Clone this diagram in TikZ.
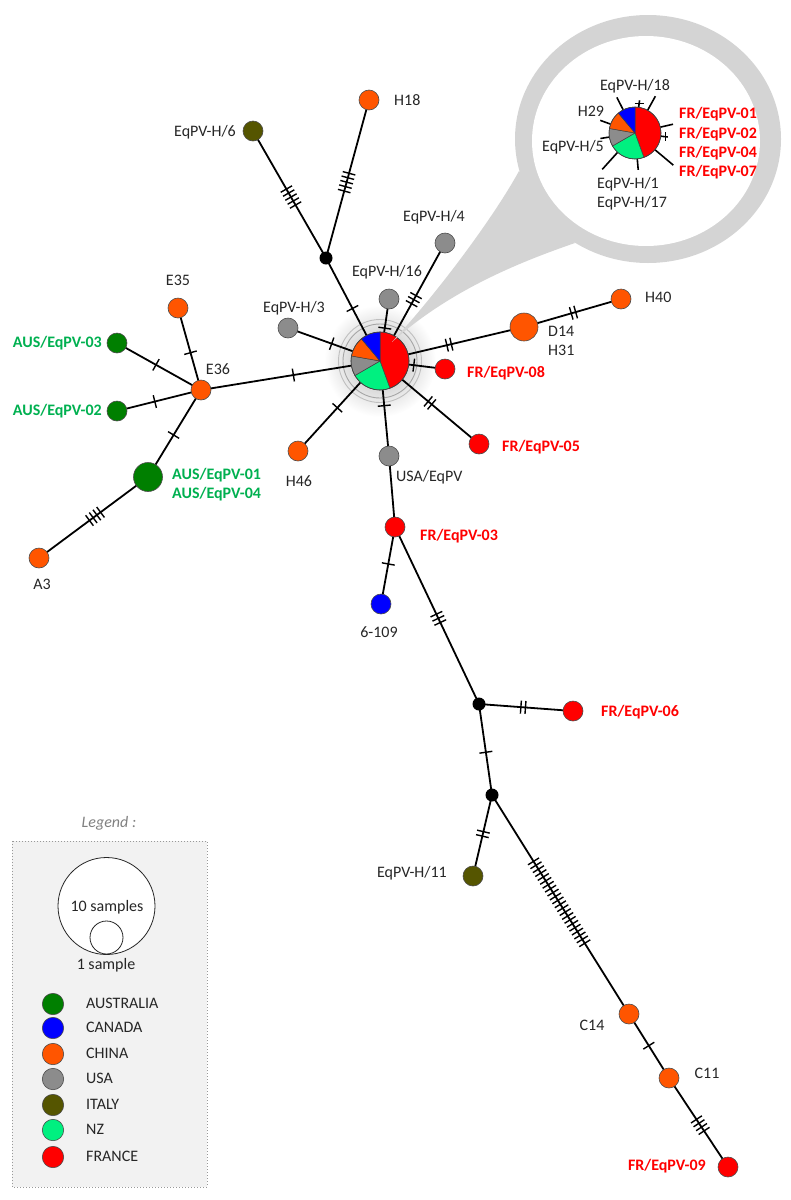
\documentclass[tikz,border=0pt]{standalone}
\usepackage{fontspec}
\setmainfont{Carlito}
\usetikzlibrary{decorations.markings}
\pgfdeclarelayer{bg}
\pgfsetlayers{bg,main}
\definecolor{cAus}{HTML}{007F00}
\definecolor{cCan}{HTML}{0000FF}
\definecolor{cChi}{HTML}{FF5500}
\definecolor{cUsa}{HTML}{8C8C8C}
\definecolor{cIta}{HTML}{555500}
\definecolor{cNz}{HTML}{00F080}
\definecolor{cFra}{HTML}{FF0000}
\definecolor{labGreen}{HTML}{00B050}
\definecolor{labRed}{HTML}{FF0000}
\definecolor{bubbleGray}{HTML}{D4D4D4}
\definecolor{legFill}{HTML}{F2F2F2}
\newcommand\hubslice[5]{\filldraw[fill=#5, draw=black!75, line width=0.5pt] (#1) -- +(#3:#2) arc[start angle=#3, end angle=#4, radius=#2] -- cycle;}
\begin{document}
\begin{tikzpicture}[x=1pt,y=-1pt,
  nd/.style={circle, draw=black!70, line width=0.6pt, inner sep=0pt, minimum size=20},
  aus/.style={nd, fill=cAus},
  can/.style={nd, fill=cCan},
  chi/.style={nd, fill=cChi},
  usa/.style={nd, fill=cUsa},
  ita/.style={nd, fill=cIta},
  nzs/.style={nd, fill=cNz},
  fra/.style={nd, fill=cFra},
  jn/.style={circle, fill=black, inner sep=0pt, minimum size=13},
  lbl/.style={font=\fontsize{16}{19}\selectfont, inner sep=0pt, text height=11pt, text depth=3pt, text=black!85},
  frl/.style={lbl, font=\fontsize{16}{19}\selectfont\bfseries, text=labRed},
  ausl/.style={lbl, font=\fontsize{16}{19}\selectfont\bfseries, text=labGreen},
  edge/.style={draw=black, line width=1.8pt},
  tickln/.style={draw=black, line width=1.4pt},
  ticks/.style 2 args={postaction={decorate, decoration={markings, mark=at position #1 with {\foreach \k in {1,...,#2}{\draw[tickln] ({(\k-(#2+1)/2)*4.6},-6.5) -- ({(\k-(#2+1)/2)*4.6},6.5);}}}}}
]
\useasboundingbox (0,0) rectangle (791,1200);

% ---------- network nodes ----------
\node[circle, inner sep=0pt, minimum size=58] (hub) at (380,361) {};
\node[jn] (j1) at (326,258) {};
\node[ita] (h6) at (253,131) {};
\node[chi] (h18) at (369,100) {};
\node[usa] (h16) at (389,299) {};
\node[usa] (h4) at (445,243) {};
\node[usa] (h3) at (288,328) {};
\node[chi] (e36) at (201,390) {};
\node[chi] (e35) at (178,308) {};
\node[aus] (aus3) at (117,343) {};
\node[aus] (aus2) at (117,411) {};
\node[aus, minimum size=29] (aus1) at (148,477) {};
\node[chi] (a3) at (39,558) {};
\node[chi] (h46) at (298,451) {};
\node[usa] (usa) at (389,456) {};
\node[fra] (fr05) at (479,444) {};
\node[fra] (fr08) at (445,369) {};
\node[chi, minimum size=28] (d14) at (524,327) {};
\node[chi] (h40) at (621,299) {};
\node[fra] (fr03) at (395,527) {};
\node[can] (can) at (381,604) {};
\node[jn] (j2) at (479,704) {};
\node[fra] (fr06) at (573,711) {};
\node[jn] (j3) at (492,795) {};
\node[ita] (h11) at (473,876) {};
\node[chi] (c14) at (629,1014) {};
\node[chi] (c11) at (669,1078) {};
\node[fra] (fr09) at (728,1167) {};

% ---------- background: glow, bubble, rings, edges ----------
\begin{pgfonlayer}{bg}
  \shade[inner color=black!30, outer color=white] (hub.center) circle (56);
  \fill[bubbleGray] (648,139) ellipse [x radius=133, y radius=124];
  \fill[white] (646,141) ellipse [x radius=114, y radius=105];
  \draw[black!35, line width=0.9pt] (hub.center) circle (37);
  \draw[black!25, line width=0.9pt] (hub.center) circle (41.5);
  \draw[edge, ticks={0.51}{1}] (hub.center) -- (j1.center);
  \draw[edge, ticks={0.48}{5}] (j1.center) -- (h6.center);
  \draw[edge, ticks={0.48}{5}] (j1.center) -- (h18.center);
  \draw[edge, ticks={0.53}{1}] (hub.center) -- (h16.center);
  \draw[edge, ticks={0.52}{3}] (hub.center) -- (h4.center);
  \draw[edge, ticks={0.525}{1}] (hub.center) -- (h3.center);
  \draw[edge, ticks={0.484}{1}] (hub.center) -- (e36.center);
  \draw[edge, ticks={0.52}{1}] (hub.center) -- (h46.center);
  \draw[edge, ticks={0.47}{1}] (hub.center) -- (usa.center);
  \draw[edge, ticks={0.505}{2}] (hub.center) -- (fr05.center);
  \draw[edge, ticks={0.52}{1}] (hub.center) -- (fr08.center);
  \draw[edge, ticks={0.48}{2}] (hub.center) -- (d14.center);
  \draw[edge, ticks={0.51}{2}] (d14.center) -- (h40.center);
  \draw[edge, ticks={0.455}{1}] (e36.center) -- (e35.center);
  \draw[edge, ticks={0.536}{1}] (e36.center) -- (aus3.center);
  \draw[edge, ticks={0.55}{1}] (e36.center) -- (aus2.center);
  \draw[edge, ticks={0.517}{1}] (e36.center) -- (aus1.center);
  \draw[edge, ticks={0.486}{4}] (aus1.center) -- (a3.center);
  \draw[edge] (usa.center) -- (fr03.center);
  \draw[edge, ticks={0.48}{1}] (fr03.center) -- (can.center);
  \draw[edge, ticks={0.516}{3}] (fr03.center) -- (j2.center);
  \draw[edge, ticks={0.47}{2}] (j2.center) -- (fr06.center);
  \draw[edge, ticks={0.53}{1}] (j2.center) -- (j3.center);
  \draw[edge, ticks={0.48}{2}] (j3.center) -- (h11.center);
  \draw[edge, ticks={0.49}{22}] (j3.center) -- (c14.center);
  \draw[edge, ticks={0.495}{1}] (c14.center) -- (c11.center);
  \draw[edge, ticks={0.53}{4}] (c11.center) -- (fr09.center);
\end{pgfonlayer}

% ---------- hub pie ----------
\hubslice{hub.center}{29}{-90}{70}{cFra}
\hubslice{hub.center}{29}{70}{150}{cNz}
\hubslice{hub.center}{29}{150}{190}{cUsa}
\hubslice{hub.center}{29}{190}{230}{cChi}
\hubslice{hub.center}{29}{230}{270}{cCan}
\draw[black!75, line width=0.6pt] (hub.center) circle (29);

% ---------- bubble tail ----------
\fill[bubbleGray] (392,342) .. controls (440,290) and (495,215) .. (519,171) -- (575,243) .. controls (520,262) and (450,290) .. (392,342) -- cycle;

% ---------- zoomed pie in bubble ----------
\node[circle, inner sep=0pt, minimum size=52] (mini) at (635,133) {};
\foreach \a/\l in {117/40, 82/33, 61/42, 13/39, -7/33, -40/50, -85/37, -132/49, 189/35, 160/37}
  \draw[edge, line width=1.6pt] ([shift={(-\a:26)}]mini.center) -- ([shift={(-\a:\l)}]mini.center);
\draw[tickln] ([shift={(-82:29.5)}]mini.center) ++(-4.5,0) -- ++(9,0);
\draw[tickln] ([shift={(7:31)}]mini.center) ++(0,-4.5) -- ++(0,9);
\hubslice{mini.center}{26}{-90}{70}{cFra}
\hubslice{mini.center}{26}{70}{150}{cNz}
\hubslice{mini.center}{26}{150}{190}{cUsa}
\hubslice{mini.center}{26}{190}{230}{cChi}
\hubslice{mini.center}{26}{230}{270}{cCan}
\draw[black!75, line width=0.6pt] (mini.center) circle (26);
\node[lbl] (tm18) at (635,86) {EqPV-H/18};
\node[lbl] (tm29) at (591,112) {H29};
\node[lbl] (tm5) at (573,147) {EqPV-H/5};
\node[lbl, anchor=west] (tm1) at (597,184) {EqPV-H/1};
\node[lbl, anchor=west] (tm17) at (597,203) {EqPV-H/17};
\node[frl, anchor=west] (tf1) at (679,114) {FR/EqPV-01};
\node[frl, anchor=west] (tf2) at (679,134) {FR/EqPV-02};
\node[frl, anchor=west] (tf4) at (679,153) {FR/EqPV-04};
\node[frl, anchor=west] (tf7) at (679,172) {FR/EqPV-07};

% ---------- labels ----------
\node[lbl, anchor=west] (th18) at (394,101) {H18};
\node[lbl, anchor=east] (th6) at (236,132) {EqPV-H/6};
\node[lbl] (th4) at (434,217) {EqPV-H/4};
\node[lbl] (th16) at (387,272) {EqPV-H/16};
\node[lbl] (th3) at (294,308) {EqPV-H/3};
\node[lbl] (te35) at (178,281) {E35};
\node[lbl] (te36) at (218,370) {E36};
\node[ausl, anchor=east] (ta3) at (102,343) {AUS/EqPV-03};
\node[ausl, anchor=east] (ta2) at (102,411) {AUS/EqPV-02};
\node[ausl, anchor=west] (ta1) at (172,475) {AUS/EqPV-01};
\node[ausl, anchor=west] (ta4) at (172,494) {AUS/EqPV-04};
\node[lbl] (tA3) at (42,585) {A3};
\node[lbl] (th46) at (299,482) {H46};
\node[lbl, anchor=west] (tusa) at (396,477) {USA/EqPV};
\node[frl, anchor=west] (tf5) at (502,447) {FR/EqPV-05};
\node[frl, anchor=west] (tf8) at (467,373) {FR/EqPV-08};
\node[lbl, anchor=west] (td14) at (548,332) {D14};
\node[lbl, anchor=west] (th31) at (548,351) {H31};
\node[lbl, anchor=west] (th40) at (645,298) {H40};
\node[frl, anchor=west] (tf3) at (420,536) {FR/EqPV-03};
\node[lbl] (tcan) at (379,633) {6-109};
\node[frl, anchor=west] (tf6) at (601,712) {FR/EqPV-06};
\node[lbl, anchor=east] (th11) at (447,873) {EqPV-H/11};
\node[lbl] (tc14) at (592,1026) {C14};
\node[lbl] (tc11) at (707,1074) {C11};
\node[frl, anchor=east] (tf9) at (706,1166) {FR/EqPV-09};

% ---------- legend ----------
\node[lbl, font=\fontsize{16}{19}\selectfont\itshape, text=black!50] (legt) at (109,823) {Legend :};
\draw[fill=legFill, draw=black!40, line width=1pt, dotted] (12,841) rectangle (207,1187);
\node[circle, draw=black!85, fill=white, line width=0.8pt, minimum size=97, inner sep=0pt] (big) at (106.5,906) {};
\node[circle, draw=black!85, fill=white, line width=0.8pt, minimum size=33, inner sep=0pt] (small) at (106.5,937.5) {};
\node[lbl] (t10) at (107,907) {10 samples};
\node[lbl] (t1) at (106,965) {1 sample};
\foreach \nm/\st/\yy/\tx in {la/aus/1004/AUSTRALIA, lc/can/1028/CANADA, lh/chi/1054/CHINA, lu/usa/1079/USA, li/ita/1105/ITALY, ln/nzs/1130/NZ, lf/fra/1157/FRANCE}{
  \node[\st, minimum size=21.4] (\nm) at (53,\yy) {};
  \node[lbl, anchor=west] (\nm t) at (86,\yy) {\tx};
}
\end{tikzpicture}
\end{document}
